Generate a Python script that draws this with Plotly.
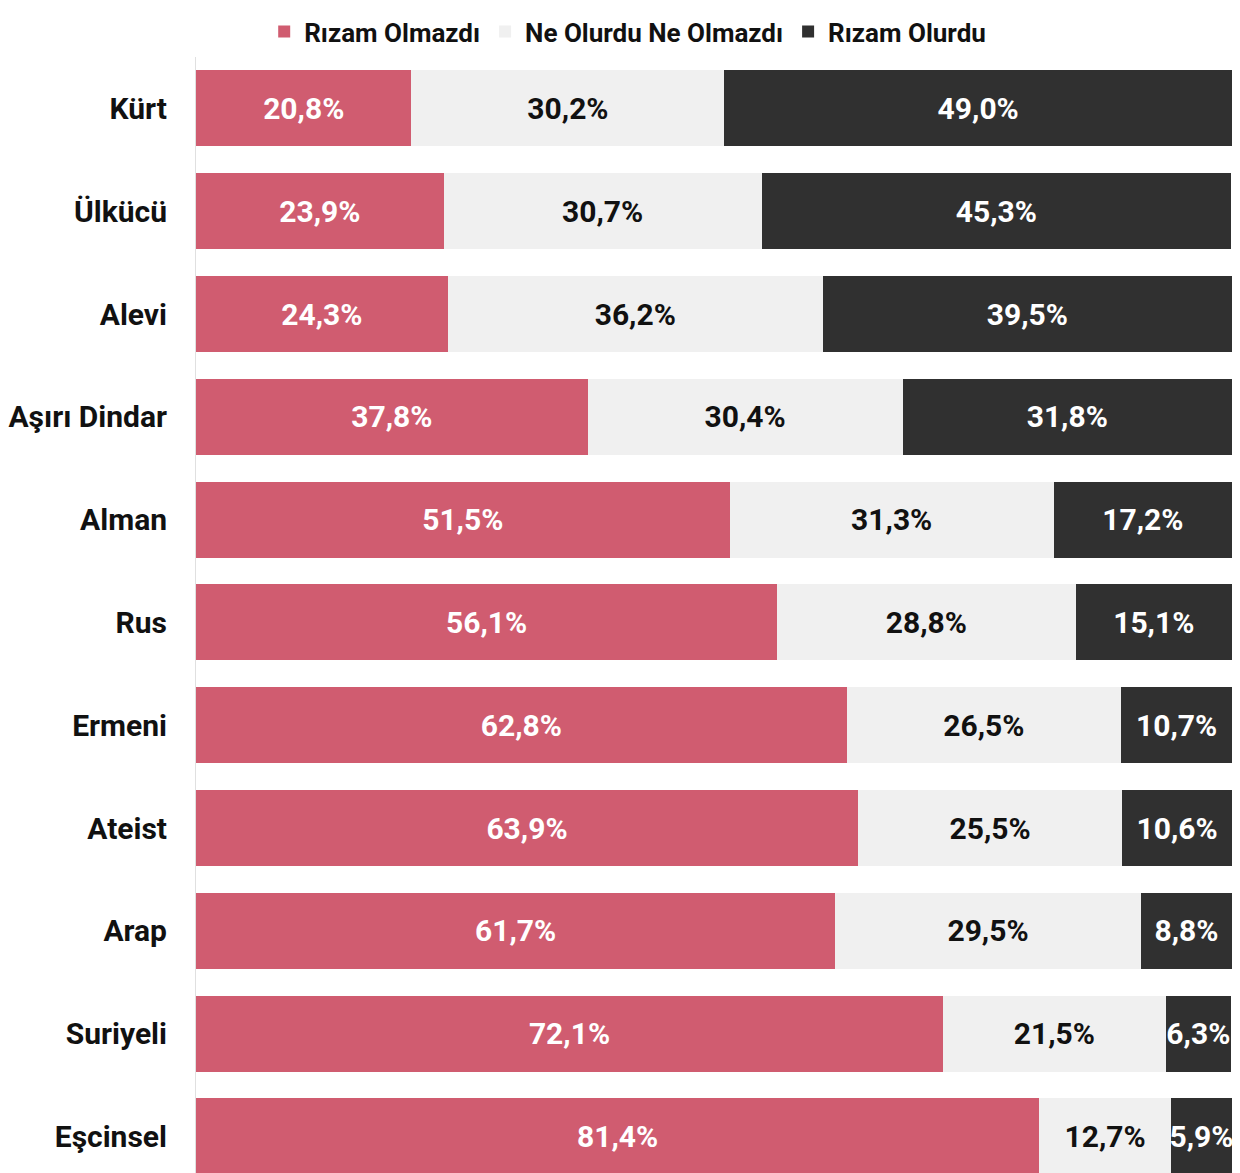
import plotly.graph_objects as go

groups = ['Kürt', 'Ülkücü', 'Alevi', 'Aşırı Dindar', 'Alman', 'Rus', 'Ermeni',
          'Ateist', 'Arap', 'Suriyeli', 'Eşcinsel']
olmazdi = [20.8, 23.9, 24.3, 37.8, 51.5, 56.1, 62.8, 63.9, 61.7, 72.1, 81.4]
notr = [30.2, 30.7, 36.2, 30.4, 31.3, 28.8, 26.5, 25.5, 29.5, 21.5, 12.7]
olurdu = [49.0, 45.3, 39.5, 31.8, 17.2, 15.1, 10.7, 10.6, 8.8, 6.3, 5.9]

series = [
    ('Rızam Olmazdı', olmazdi, '#D05C70', 'white'),
    ('Ne Olurdu Ne Olmazdı', notr, '#F0F0F0', '#111111'),
    ('Rızam Olurdu', olurdu, '#303030', 'white'),
]

FONT = 'Roboto'


def pct(v):
    return '{:.1f}%'.format(v).replace('.', ',')


fig = go.Figure()
for name, vals, color, tcolor in series:
    fig.add_trace(go.Bar(
        y=groups, x=vals, name=name, orientation='h',
        marker=dict(color=color, line=dict(width=0)),
        text=[pct(v) for v in vals], textposition='inside',
        insidetextanchor='middle', textangle=0,
        textfont=dict(color=tcolor, size=30, family=FONT, weight='bold'),
    ))

# page body has an 8px margin, so the figure is 8px smaller than the window
fig.update_layout(
    barmode='stack', bargap=0.26,
    width=1232, height=1165,
    margin=dict(l=188, r=8, t=49, b=0, autoexpand=False),
    plot_bgcolor='white', paper_bgcolor='white',
    font=dict(family=FONT, size=30, color='#111111', weight='bold'),
    uniformtext=dict(minsize=30, mode='show'),
    legend=dict(orientation='h', xref='container', x=0.503, xanchor='center',
                yref='container', y=1.0, yanchor='top',
                font=dict(size=26, family=FONT, weight='bold'),
                itemwidth=30, traceorder='normal', bgcolor='rgba(0,0,0,0)'),
    showlegend=True,
)
fig.update_xaxes(range=[0, 100], visible=False, fixedrange=True)
fig.update_yaxes(categoryorder='array', categoryarray=groups,
                 range=[10.356, -0.5], showline=True, linecolor='#E0E0E0',
                 linewidth=1, ticks='', ticklabelstandoff=22, showgrid=False,
                 automargin=False)

fig.write_html("out.html")
